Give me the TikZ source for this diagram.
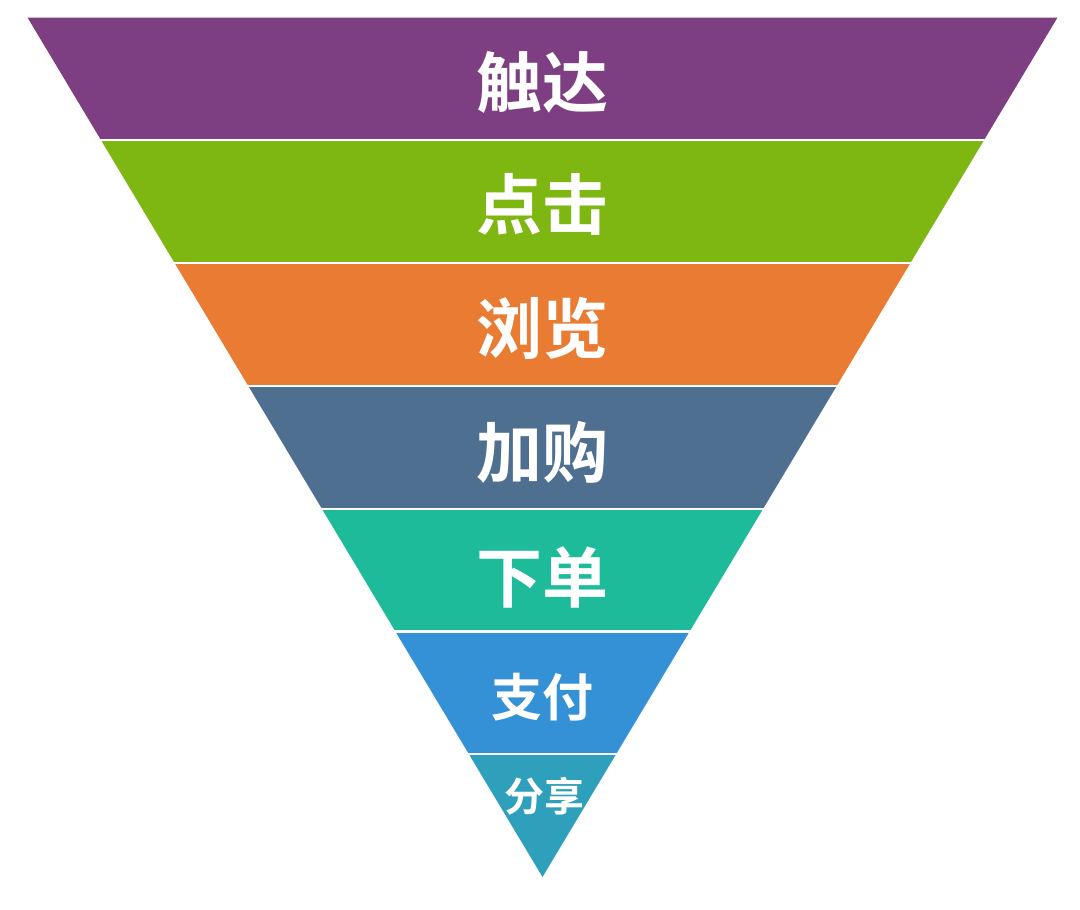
\documentclass[tikz,border=0pt]{standalone}
\usepackage{fontspec}
\newfontfamily\cjk[BoldFont={Noto Sans CJK SC Bold}]{Noto Sans CJK SC}
\definecolor{reachcol}{RGB}{125,63,129}
\definecolor{clickcol}{RGB}{126,182,18}
\definecolor{browsecol}{RGB}{233,123,51}
\definecolor{cartcol}{RGB}{79,111,145}
\definecolor{ordercol}{RGB}{29,187,154}
\definecolor{paycol}{RGB}{52,145,213}
\definecolor{sharecol}{RGB}{47,160,188}
\usetikzlibrary{calc}

\begin{document}
\begin{tikzpicture}[x=1pt,y=-1pt,
    bandtext/.style={text=white,inner sep=0pt,anchor=center,font=\cjk\bfseries\fontsize{#1}{#1}\selectfont},
    bandgap/.style={draw=white,line width=2.2pt}]

\useasboundingbox (0,0) rectangle (1080,910);

\pgfmathsetmacro\apexx{542.5}
\pgfmathsetmacro\apexy{877}
\pgfmathsetmacro\topy{17.5}
\pgfmathsetmacro\slope{515/(\apexy-\topy)}
\pgfmathsetmacro\bandh{(\apexy-\topy)/7}

\foreach \stepi/\stepcol in {0/reachcol, 1/clickcol, 2/browsecol, 3/cartcol, 4/ordercol, 5/paycol, 6/sharecol}
{
    \pgfmathsetmacro\stepya{\topy+\stepi*\bandh}
    \pgfmathsetmacro\stepyb{\stepya+\bandh}
    \pgfmathsetmacro\stepwa{\slope*(\apexy-\stepya)}
    \pgfmathsetmacro\stepwb{\slope*(\apexy-\stepyb)}
    \fill[\stepcol] (\apexx-\stepwa,\stepya) -- (\apexx+\stepwa,\stepya) -- (\apexx+\stepwb,\stepyb) -- (\apexx-\stepwb,\stepyb) -- cycle;
}

\foreach \stepi in {1, ..., 6}
{
    \pgfmathsetmacro\stepy{\topy+\stepi*\bandh}
    \pgfmathsetmacro\stepw{\slope*(\apexy-\stepy)+3}
    \draw[bandgap] (\apexx-\stepw,\stepy) -- (\apexx+\stepw,\stepy);
}

\node[bandtext=66] (reach) at (542.5,82) {触达};
\node[bandtext=66] (click) at (542.5,204) {点击};
\node[bandtext=66] (browse) at (542.5,328) {浏览};
\node[bandtext=66] (cart) at (542.5,452) {加购};
\node[bandtext=66] (order) at (542.5,577) {下单};
\node[bandtext=51] (pay) at (542.5,697) {支付};
\node[bandtext=40] (share) at (544,796) {分享};

\end{tikzpicture}
\end{document}
